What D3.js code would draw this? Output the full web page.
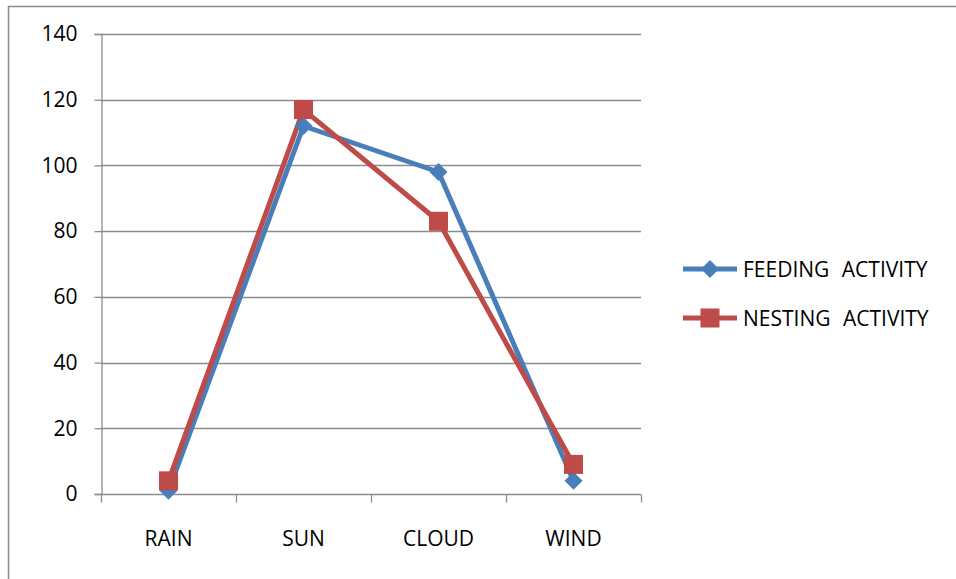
<!DOCTYPE html>
<html>
<head>
<meta charset="utf-8">
<script src="https://cdn.jsdelivr.net/npm/d3@7"></script>
<style>
  html, body { margin: 0; padding: 0; background: #fff; }
  svg { display: block; }
  text { font-family: "Open Sans", "Liberation Sans", sans-serif; fill: #000; }
</style>
</head>
<body>
<svg id="chart" width="956" height="579"></svg>
<script>
// Activity counts by weather condition
const categories = ["RAIN", "SUN", "CLOUD", "WIND"];
const feeding = [1, 112, 98, 4];
const nesting = [4, 117, 83, 9];
const seriesNames = ["FEEDING ACTIVITY", "NESTING ACTIVITY"];
const yTicks = [0, 20, 40, 60, 80, 100, 120, 140];

const svg = d3.select("#chart");
const fontSize = "21px";

// Outer chart frame
svg.append("rect")
  .attr("x", 8.5).attr("y", 6.5)
  .attr("width", 990).attr("height", 620)
  .attr("fill", "none").attr("stroke", "#8c8c8c").attr("stroke-width", 1.5);

const plot = { left: 101, right: 641, top: 34, bottom: 494 };

const x = d3.scaleBand().domain(categories).range([plot.left, plot.right]).padding(0);
const y = d3.scaleLinear().domain([0, 140]).range([plot.bottom, plot.top]);

// Horizontal gridlines
svg.append("g").selectAll("line").data(yTicks.filter(d => d > 0)).join("line")
  .attr("x1", plot.left).attr("x2", plot.right)
  .attr("y1", d => Math.round(y(d)) + 0.5).attr("y2", d => Math.round(y(d)) + 0.5)
  .attr("stroke", "#8c8c8c").attr("stroke-width", 1.3);

// Y axis
const yAxis = svg.append("g")
  .attr("transform", `translate(${plot.left + 0.5},0)`)
  .call(d3.axisLeft(y).tickValues(yTicks).tickSize(7).tickPadding(17));
yAxis.select(".domain").attr("stroke", "#8c8c8c").attr("stroke-width", 1.3);
yAxis.selectAll(".tick line").attr("stroke", "#8c8c8c").attr("stroke-width", 1.3);
yAxis.selectAll(".tick text")
  .style("font-size", fontSize).style("font-family", "'Open Sans', sans-serif").attr("fill", "#000");

// X axis with ticks at category boundaries
const xAxisG = svg.append("g").attr("transform", `translate(0,${plot.bottom + 0.5})`);
xAxisG.append("line")
  .attr("x1", plot.left).attr("x2", plot.right)
  .attr("stroke", "#8c8c8c").attr("stroke-width", 1.3);
const bounds = categories.map(c => x(c)).concat([x(categories[categories.length - 1]) + x.bandwidth()]);
xAxisG.selectAll("line.tk").data(bounds).join("line").attr("class", "tk")
  .attr("x1", d => Math.round(d) + 0.5).attr("x2", d => Math.round(d) + 0.5)
  .attr("y1", 0).attr("y2", 8)
  .attr("stroke", "#8c8c8c").attr("stroke-width", 1.3);
xAxisG.selectAll("text").data(categories).join("text")
  .attr("x", d => x(d) + x.bandwidth() / 2)
  .attr("y", 51)
  .attr("text-anchor", "middle")
  .style("font-size", fontSize)
  .text(d => d);

const cx = d => x(d) + x.bandwidth() / 2;
const line = d3.line().x((d, i) => cx(categories[i])).y(d => y(d));

const blue = "#4a7ebb", red = "#be4b48";

// Feeding series
svg.append("path").datum(feeding)
  .attr("d", line).attr("fill", "none")
  .attr("stroke", blue).attr("stroke-width", 5).attr("stroke-linejoin", "round");
// Nesting series
svg.append("path").datum(nesting)
  .attr("d", line).attr("fill", "none")
  .attr("stroke", red).attr("stroke-width", 5).attr("stroke-linejoin", "round");

function diamond(g, px, py) {
  const r = 9;
  g.append("path")
    .attr("d", `M${px},${py - r}L${px + r},${py}L${px},${py + r}L${px - r},${py}Z`)
    .attr("fill", blue);
}
function square(g, px, py) {
  const s = 19;
  g.append("rect")
    .attr("x", px - s / 2).attr("y", py - s / 2)
    .attr("width", s).attr("height", s)
    .attr("fill", red);
}

const mk = svg.append("g");
feeding.forEach((v, i) => diamond(mk, cx(categories[i]), y(v)));
nesting.forEach((v, i) => square(mk, cx(categories[i]), y(v)));

// Legend
const legend = svg.append("g");
const legY = [269, 318];
const colors = [blue, red];
seriesNames.forEach((name, i) => {
  legend.append("line")
    .attr("x1", 683).attr("x2", 737)
    .attr("y1", legY[i]).attr("y2", legY[i])
    .attr("stroke", colors[i]).attr("stroke-width", 5);
  if (i === 0) diamond(legend, 710, legY[i]);
  else square(legend, 710, legY[i]);
  legend.append("text")
    .attr("x", 743).attr("y", legY[i])
    .attr("dominant-baseline", "central")
    .style("font-size", fontSize)
    .style("word-spacing", "7px")
    .text(name);
});
</script>
</body>
</html>
